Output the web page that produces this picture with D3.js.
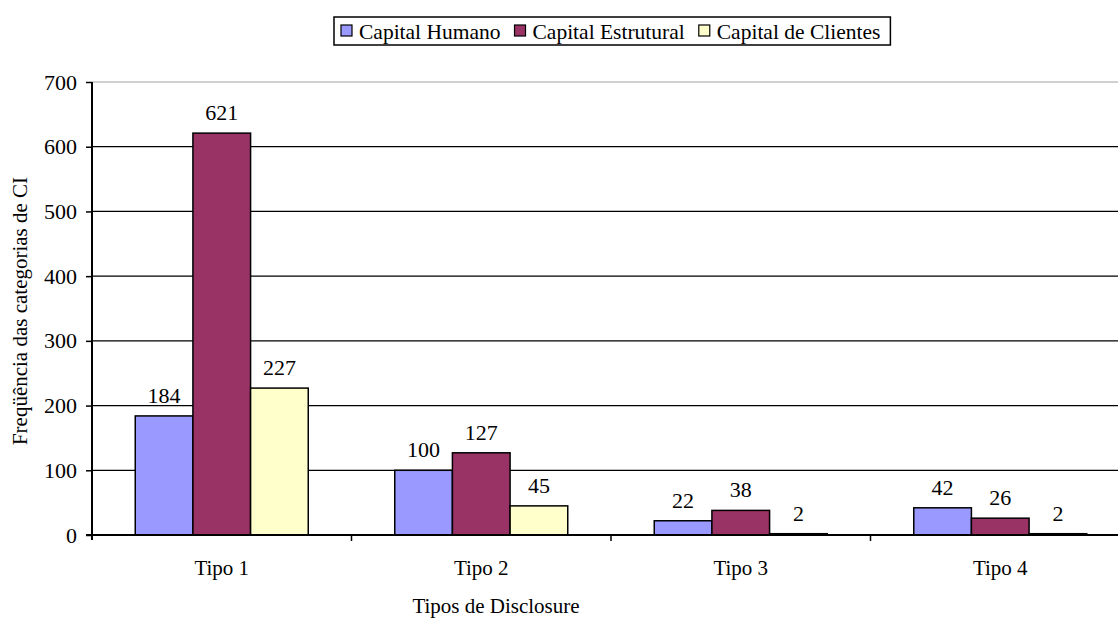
<!DOCTYPE html>
<html>
<head>
<meta charset="utf-8">
<script src="https://cdn.jsdelivr.net/npm/d3@7"></script>
<style>
  html, body { margin: 0; padding: 0; background: #fff; }
  svg text { font-family: "Liberation Serif", "Times New Roman", Tinos, "DejaVu Serif", serif !important; }
</style>
</head>
<body>
<svg id="chart" width="1118" height="619"></svg>
<script>
// Frequency of intellectual-capital categories by disclosure type
const categories = ["Tipo 1", "Tipo 2", "Tipo 3", "Tipo 4"];
const seriesNames = ["Capital Humano", "Capital Estrutural", "Capital de Clientes"];
const capitalHumano = [184, 100, 22, 42];
const capitalEstrutural = [621, 127, 38, 26];
const capitalClientes = [227, 45, 2, 2];
const yTicks = [0, 100, 200, 300, 400, 500, 600, 700];
const colors = ["#9999FF", "#993366", "#FFFFCC"];

const seriesValues = [capitalHumano, capitalEstrutural, capitalClientes];

const svg = d3.select("#chart");
const fontSize = 21;
const labelSize = 22;
const legendSize = 21.5;

const plot = { left: 92, right: 1130, top: 82, bottom: 535 };

const x = d3.scaleBand().domain(categories).range([plot.left, plot.right]).padding(0);
const xs = d3.scaleBand().domain(seriesNames)
  .range([x.bandwidth() / 6, x.bandwidth() * 5 / 6]).padding(0);
const y = d3.scaleLinear().domain([0, 700]).range([plot.bottom, plot.top]);

// gridlines
svg.append("g").selectAll("line")
  .data(yTicks.filter(t => t > 0))
  .join("line")
  .attr("x1", plot.left).attr("x2", plot.right)
  .attr("y1", d => y(d)).attr("y2", d => y(d))
  .attr("stroke", d => d === 700 ? "#c0c0c0" : "#000")
  .attr("stroke-width", d => d === 700 ? 1.5 : 1.2);

// bars
const groups = svg.append("g").selectAll("g")
  .data(categories)
  .join("g")
  .attr("transform", d => `translate(${x(d)},0)`);

groups.selectAll("rect")
  .data((c, i) => seriesNames.map((s, k) => ({ s, k, v: seriesValues[k][i] })))
  .join("rect")
  .attr("x", d => xs(d.s))
  .attr("width", xs.bandwidth())
  .attr("y", d => y(d.v))
  .attr("height", d => y(0) - y(d.v))
  .attr("fill", d => colors[d.k])
  .attr("stroke", "#000")
  .attr("stroke-width", 1.5);

groups.selectAll("text")
  .data((c, i) => seriesNames.map((s, k) => ({ s, k, v: seriesValues[k][i] })))
  .join("text")
  .attr("x", d => xs(d.s) + xs.bandwidth() / 2)
  .attr("y", d => y(d.v) - 13)
  .attr("text-anchor", "middle")
  .attr("font-size", labelSize)
  .attr("fill", "#000")
  .text(d => d.v);

// y axis
const yAxis = svg.append("g")
  .attr("transform", `translate(${plot.left},0)`)
  .call(d3.axisLeft(y).tickValues(yTicks).tickSize(6).tickPadding(9).tickFormat(d3.format("d")));
yAxis.select(".domain").attr("stroke", "#000").attr("stroke-width", 2)
  .attr("d", `M0,${plot.top}V${plot.bottom + 5}`);
yAxis.selectAll(".tick line").attr("stroke", "#000").attr("stroke-width", 1.5);
yAxis.selectAll(".tick text").attr("font-size", labelSize).attr("fill", "#000");

// x axis
const xAxis = svg.append("g")
  .attr("transform", `translate(0,${plot.bottom})`);
xAxis.append("line")
  .attr("x1", plot.left - 6).attr("x2", plot.right)
  .attr("stroke", "#000").attr("stroke-width", 2);
xAxis.selectAll(".sep")
  .data(categories.slice(1))
  .join("line")
  .attr("class", "sep")
  .attr("x1", d => x(d)).attr("x2", d => x(d))
  .attr("y1", 0).attr("y2", 6)
  .attr("stroke", "#000").attr("stroke-width", 1.5);
xAxis.selectAll("text")
  .data(categories)
  .join("text")
  .attr("x", d => x(d) + x.bandwidth() / 2)
  .attr("y", 40)
  .attr("text-anchor", "middle")
  .attr("font-size", fontSize)
  .text(d => d);

// axis titles
svg.append("text")
  .attr("x", 496).attr("y", 613)
  .attr("text-anchor", "middle")
  .attr("font-size", fontSize)
  .text("Tipos de Disclosure");

svg.append("text")
  .attr("transform", "translate(27,311) rotate(-90)")
  .attr("text-anchor", "middle")
  .attr("font-size", fontSize)
  .text("Freqüência das categorias de CI");

// legend
const legend = svg.append("g");
const legendBox = legend.append("rect")
  .attr("fill", "#fff").attr("stroke", "#000").attr("stroke-width", 1.5);
let lx = 341;
seriesNames.forEach((name, k) => {
  legend.append("rect")
    .attr("x", lx).attr("y", 25).attr("width", 11).attr("height", 11)
    .attr("fill", colors[k]).attr("stroke", "#000").attr("stroke-width", 1.2);
  const t = legend.append("text")
    .attr("x", lx + 18).attr("y", 39)
    .attr("font-size", legendSize)
    .text(name);
  lx += 18 + t.node().getComputedTextLength() + 14;
});
legendBox.attr("x", 334).attr("y", 17).attr("width", lx - 334 - 4).attr("height", 28);
</script>
</body>
</html>
